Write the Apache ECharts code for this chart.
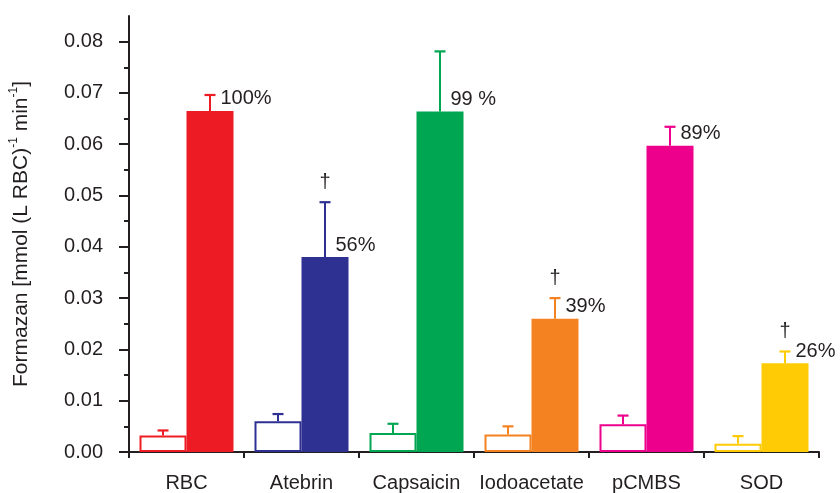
<!DOCTYPE html>
<html>
<head>
<meta charset="utf-8">
<style>
  html, body { margin: 0; padding: 0; background: #fff; }
  #chart { width: 840px; height: 493px; }
</style>
<script src="https://cdn.jsdelivr.net/npm/echarts@6/dist/echarts.min.js"></script>
</head>
<body>
<div id="chart"></div>
<script>
// Formazan production per inhibitor: control (open) vs. stimulated (filled), mean + SEM
const categories = ['RBC', 'Atebrin', 'Capsaicin', 'Iodoacetate', 'pCMBS', 'SOD'];
const controlMean = [0.0032, 0.0060, 0.0037, 0.0034, 0.0054, 0.0016];
const controlSem = [0.0010, 0.0014, 0.0018, 0.0016, 0.0017, 0.0015];
const treatedMean = [0.0665, 0.0380, 0.0664, 0.0260, 0.0597, 0.0173];
const treatedSem = [0.0031, 0.0107, 0.0117, 0.0040, 0.0037, 0.0023];
const percentLabels = ['100%', '56%', '99 %', '39%', '89%', '26%'];
const significant = [false, true, false, true, false, true];
const yTicks = [0, 0.01, 0.02, 0.03, 0.04, 0.05, 0.06, 0.07, 0.08];
const yMinorTicks = [0.005, 0.015, 0.025, 0.035, 0.045, 0.055, 0.065, 0.075];

const palette = ['#ED1C24', '#2E3192', '#00A651', '#F58220', '#EC008C', '#FFCB05'];
const TEXT = '#231F20';
const FONT = '"Liberation Sans", Arial, sans-serif';
const BAR_W = 47;

const chart = echarts.init(document.getElementById('chart'), null, { renderer: 'canvas' });

function errorSeries(name, means, sems, side) {
  return {
    name: name,
    type: 'custom',
    xAxisIndex: 0,
    yAxisIndex: 0,
    z: 3,
    data: means.map((m, i) => [i, m, m + sems[i], side > 0 && significant[i] ? 1 : 0]),
    renderItem: function (params, api) {
      const i = api.value(0);
      const base = api.coord([i, api.value(1)]);
      const top = api.coord([i, api.value(2)]);
      const x = base[0] + side * BAR_W / 2;
      const color = palette[i];
      const children = [
        { type: 'line', shape: { x1: x, y1: base[1], x2: x, y2: top[1] },
          style: { stroke: color, lineWidth: 2 } },
        { type: 'line', shape: { x1: x - 5.5, y1: top[1], x2: x + 5.5, y2: top[1] },
          style: { stroke: color, lineWidth: 2.2 } }
      ];
      if (api.value(3)) {
        children.push({
          type: 'text',
          style: { text: '\u2020', x: x, y: top[1] - 20, fill: TEXT,
                   font: '20px ' + FONT, align: 'center', verticalAlign: 'middle' }
        });
      }
      return { type: 'group', children: children };
    }
  };
}

const option = {
  animation: false,
  backgroundColor: '#fff',
  grid: { left: 129, right: 21, top: 16, bottom: 37, containLabel: false },
  xAxis: {
    type: 'category',
    data: categories,
    boundaryGap: true,
    axisLine: { lineStyle: { color: TEXT, width: 2 } },
    axisTick: { show: true, length: 6, lineStyle: { color: TEXT, width: 2 } },
    axisLabel: { color: TEXT, fontSize: 20, fontFamily: FONT, margin: 21, interval: 0 },
    splitLine: { show: false }
  },
  yAxis: [
    {
      type: 'value',
      min: 0,
      max: 0.085,
      interval: 0.01,
      name: '{n|Formazan [mmol (L RBC)}{s|-1}{n| min}{s|-1}{n|]}',
      nameLocation: 'middle',
      nameGap: 97,
      nameRotate: 90,
      nameTextStyle: {
        rich: {
          n: { fontSize: 21, fontFamily: FONT, color: TEXT, lineHeight: 24, verticalAlign: 'bottom' },
          s: { fontSize: 12, fontFamily: FONT, color: TEXT, lineHeight: 24, verticalAlign: 'top' }
        }
      },
      axisLine: { show: true, lineStyle: { color: TEXT, width: 2 } },
      axisTick: { show: true, length: 10, customValues: yTicks, lineStyle: { color: TEXT, width: 2 } },
      axisLabel: {
        color: TEXT, fontSize: 20, fontFamily: FONT, margin: 26,
        customValues: yTicks,
        formatter: v => v.toFixed(2)
      },
      splitLine: { show: false }
    },
    {
      type: 'value',
      min: 0,
      max: 0.085,
      position: 'left',
      axisLine: { show: false },
      axisTick: { show: true, length: 5, customValues: yMinorTicks, lineStyle: { color: TEXT, width: 2 } },
      axisLabel: { show: false, customValues: [] },
      splitLine: { show: false }
    }
  ],
  series: [
    {
      name: 'Control',
      type: 'bar',
      barWidth: BAR_W,
      barGap: 0,
      z: 2,
      data: controlMean.map((v, i) => ({
        value: v,
        itemStyle: { color: '#fff', borderColor: palette[i], borderWidth: 2 }
      }))
    },
    {
      name: 'Treated',
      type: 'bar',
      barWidth: BAR_W,
      barGap: 0,
      z: 2,
      data: treatedMean.map((v, i) => ({
        value: v,
        itemStyle: { color: palette[i] }
      })),
      label: {
        show: true,
        position: [34, -12],
        align: 'left',
        verticalAlign: 'middle',
        color: TEXT,
        fontSize: 20,
        fontFamily: FONT,
        formatter: p => percentLabels[p.dataIndex]
      }
    },
    errorSeries('Control SEM', controlMean, controlSem, -1),
    errorSeries('Treated SEM', treatedMean, treatedSem, 1)
  ]
};

chart.setOption(option);
</script>
</body>
</html>
